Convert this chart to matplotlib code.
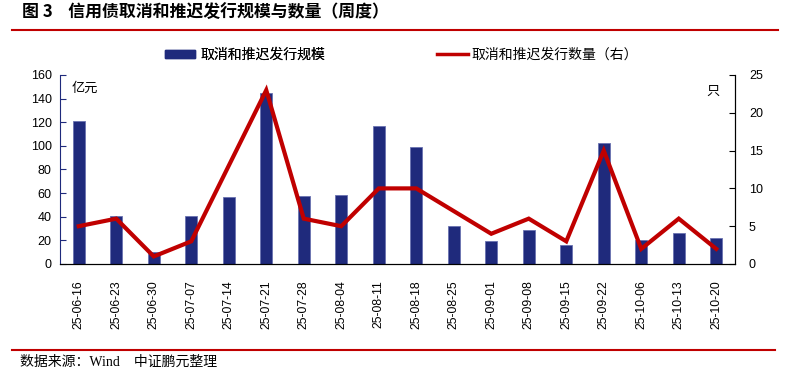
import matplotlib
matplotlib.use("Agg")
import matplotlib.pyplot as plt
from matplotlib.lines import Line2D
from matplotlib.patches import Patch

plt.rcParams['font.family'] = ['Liberation Sans', 'Noto Sans CJK SC', 'DejaVu Sans']

categories = ["25-06-16", "25-06-23", "25-06-30", "25-07-07", "25-07-14", "25-07-21",
              "25-07-28", "25-08-04", "25-08-11", "25-08-18", "25-08-25", "25-09-01",
              "25-09-08", "25-09-15", "25-09-22", "25-10-06", "25-10-13", "25-10-20"]
scale = [121, 40.5, 10, 40.5, 57, 144.5, 57.6, 58.4, 117, 98.8, 31.9, 19.5,
         29, 15.8, 102.5, 20, 26.5, 21.7]
count = [5, 6, 1, 3, 13, 23, 6, 5, 10, 10, 7, 4, 6, 3, 15, 2, 6, 2]

left_ticks = [0, 20, 40, 60, 80, 100, 120, 140, 160]
right_ticks = [0, 5, 10, 15, 20, 25]

bar_color = "#1F2A7C"
line_color = "#C00000"
cjk = ['Noto Sans CJK SC', 'DejaVu Sans']

fig = plt.figure(figsize=(7.86, 3.74), dpi=100)
ax = fig.add_axes([60/786, 110/374, 675/786, 189/374])
x = list(range(len(categories)))
ax.bar(x, scale, width=0.32, color=bar_color, edgecolor="#6A72B0", linewidth=0.6, zorder=2)
ax.set_xlim(-0.5, len(categories) - 0.5)
ax.set_ylim(0, 160)
ax.set_yticks(left_ticks)
ax.set_xticks(x)
ax.set_xticklabels(categories, rotation=90, fontsize=8.8)
ax.tick_params(axis='x', length=0, pad=11.5)
ax.tick_params(axis='y', direction='in', length=4, labelsize=9, color=bar_color, pad=6)
ax.spines['top'].set_visible(False)
ax.spines['left'].set_color(bar_color)
ax.spines['bottom'].set_color('black')
ax.spines['right'].set_color('black')

ax2 = ax.twinx()
ax2.plot(x, count, color=line_color, linewidth=3, zorder=3, solid_joinstyle='miter')
ax2.set_ylim(0, 25)
ax2.set_yticks(right_ticks)
ax2.tick_params(axis='y', direction='in', length=4, labelsize=9, pad=10)
ax2.spines['top'].set_visible(False)
ax2.spines['left'].set_visible(False)
ax2.spines['right'].set_color('black')

ax.text(0.017, 0.965, "亿元", transform=ax.transAxes, fontsize=9.5, family=cjk, va='top', ha='left')
ax2.text(0.977, 0.95, "只", transform=ax.transAxes, fontsize=9.5, family=cjk, va='top', ha='right')

# legends
leg_y = 1 - 55/374
leg1 = fig.legend([Patch(facecolor=bar_color, edgecolor=bar_color)], ["取消和推迟发行规模"],
                  loc='center left', bbox_to_anchor=(165/786, leg_y), frameon=False,
                  prop={'family': cjk, 'size': 10}, borderpad=0, borderaxespad=0,
                  handlelength=2.16, handleheight=0.45, handletextpad=0.36)
fig.add_artist(leg1)
fig.legend([Line2D([0], [0], color=line_color, linewidth=2.5)], ["取消和推迟发行数量（右）"],
           loc='center left', bbox_to_anchor=(437/786, leg_y), frameon=False,
           prop={'family': cjk, 'size': 10}, borderpad=0, borderaxespad=0,
           handlelength=2.2, handletextpad=0.25)

# title and rules
fig.text(22/786, 1 - 12/374, "图 3    信用债取消和推迟发行规模与数量（周度）", fontsize=12.2,
         fontweight='bold', family=cjk, va='center', ha='left')
fig.add_artist(Line2D([12/786, 778/786], [1 - 30/374, 1 - 30/374], color=line_color, linewidth=1.5))
fig.add_artist(Line2D([12/786, 775/786], [1 - 350/374, 1 - 350/374], color=line_color, linewidth=1.5))
fig.text(20/786, 1 - 362/374, "数据来源：Wind    中证鹏元整理", fontsize=10,
         family=['Liberation Serif', 'Noto Sans CJK SC', 'DejaVu Sans'], va='center', ha='left')

fig.savefig("out.png", dpi=100)
